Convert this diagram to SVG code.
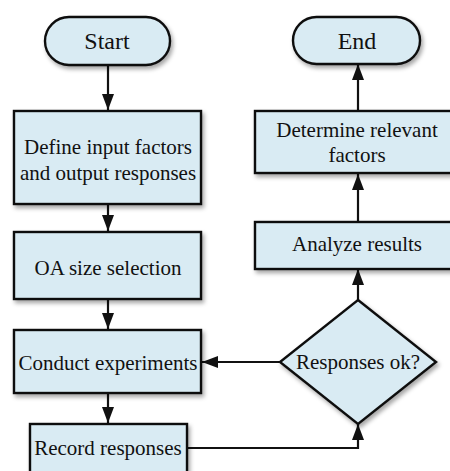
<svg xmlns="http://www.w3.org/2000/svg" width="450" height="471" viewBox="0 0 450 471">
<style>
.n{fill:#d9ebf3;stroke:#111;stroke-width:2.4;filter:url(#sh)}
.t{font-family:"Liberation Serif","Times New Roman",serif;font-size:21px;fill:#111;text-anchor:middle;dominant-baseline:central}
.b{font-size:24px}
.c{stroke:#111;stroke-width:2.2;fill:none;marker-end:url(#ah)}
</style>
<defs>
<filter id="sh" x="-10%" y="-10%" width="125%" height="130%">
<feDropShadow dx="2" dy="3" stdDeviation="2" flood-color="#000" flood-opacity="0.35"/>
</filter>
<marker id="ah" markerWidth="16" markerHeight="12" refX="16" refY="6" orient="auto" markerUnits="userSpaceOnUse" viewBox="0 0 16 12">
<path d="M0,0 L16,6 L0,12 Z" fill="#111"/>
</marker>
</defs>
<rect width="450" height="471" fill="#fff"/>
<g id="connectors">
<path class="c" d="M108,65 V110"/>
<path class="c" d="M108,204 V231"/>
<path class="c" d="M108,299 V329"/>
<path class="c" d="M108,393 V423"/>
<path class="c" d="M187,448 H358 V424"/>
<path class="c" d="M280,362 H202"/>
<path class="c" d="M358,300 V269"/>
<path class="c" d="M358,221 V174"/>
<path class="c" d="M358,110 V64"/>
</g>
<g id="start">
<rect class="n" x="45" y="17" width="125" height="48" rx="24"/>
<text class="t b" x="107" y="41">Start</text>
</g>
<g id="define">
<rect class="n" x="14" y="111" width="187" height="93"/>
<text class="t" x="108" y="147">Define input factors</text>
<text class="t" x="108" y="173">and output responses</text>
</g>
<g id="oa">
<rect class="n" x="14" y="232" width="187" height="67"/>
<text class="t" x="108" y="268">OA size selection</text>
</g>
<g id="conduct">
<rect class="n" x="14" y="330" width="187" height="63"/>
<text class="t" x="108" y="363">Conduct experiments</text>
</g>
<g id="record">
<rect class="n" x="30" y="424" width="157" height="52"/>
<text class="t" x="108" y="448">Record responses</text>
</g>
<g id="decision">
<path class="n" d="M358,300 L436,362 L358,424 L280,362 Z"/>
<text class="t" x="358" y="362">Responses ok?</text>
</g>
<g id="analyze">
<rect class="n" x="255" y="222" width="200" height="47"/>
<text class="t" x="357" y="244">Analyze results</text>
</g>
<g id="determine">
<rect class="n" x="255" y="111" width="200" height="62"/>
<text class="t" x="357" y="130">Determine relevant</text>
<text class="t" x="357" y="155">factors</text>
</g>
<g id="end">
<rect class="n" x="293" y="17" width="127" height="47" rx="23.5"/>
<text class="t b" x="357" y="41">End</text>
</g>
</svg>
